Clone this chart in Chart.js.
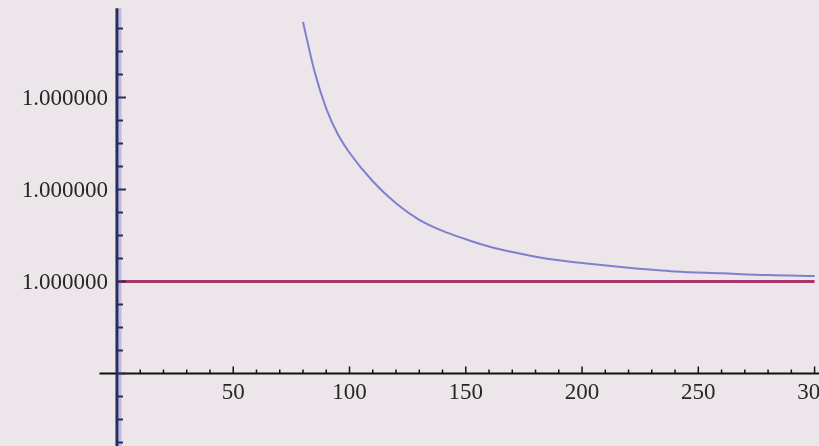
<!DOCTYPE html>
<html>
<head>
<meta charset="utf-8">
<script src="https://cdn.jsdelivr.net/npm/chart.js@4.4.0/dist/chart.umd.min.js"></script>
<style>
  html, body { margin: 0; padding: 0; background: #ece6ea; }
  #wrap { width: 819px; height: 446px; }
</style>
</head>
<body>
<div id="wrap"><canvas id="myChart" width="819" height="446"></canvas></div>
<script>
// curve
var curve_x = [80, 85, 90, 95, 100, 110, 120, 130, 140, 150, 160, 170, 180, 190, 200, 220, 240, 260, 280, 300];
var curve_y = [1.000000282, 1.000000228, 1.000000188, 1.000000160, 1.000000140, 1.000000109, 1.000000085,
               1.000000067, 1.000000055, 1.000000046, 1.000000038, 1.000000032, 1.000000027, 1.000000023,
               1.000000020, 1.000000015, 1.000000011, 1.000000009, 1.000000007, 1.000000006];
// flat line
var line_x = [0, 300];
var line_y = [1.0, 1.0];

// ticks
var x_labels       = [50, 100, 150, 200, 250, 300];
var y_label_values = [1.0000002, 1.0000001, 1.0];
var y_labels       = ['1.000000', '1.000000', '1.000000'];

function to_points(xs, ys){
  return xs.map(function(x, i){ return {x: x, y: ys[i]}; });
}

// mathematica style axes crossing inside the plot
var axes_plugin = {
  id: 'axes',
  afterDatasetsDraw: function(chart){
    var ctx = chart.ctx;
    var sx = chart.scales.x, sy = chart.scales.y;
    var x0 = sx.getPixelForValue(0);
    var yCross = sy.getPixelForValue(0.9999999);
    ctx.save();

    // x axis
    ctx.strokeStyle = '#111';
    ctx.lineWidth = 2;
    ctx.beginPath();
    ctx.moveTo(sx.getPixelForValue(-7.5), yCross);
    ctx.lineTo(chart.width, yCross);
    ctx.stroke();
    ctx.lineWidth = 1.5;
    for (var v = 10; v <= 300; v += 10) {
      var px = sx.getPixelForValue(v);
      var len = (v % 50 === 0) ? 7 : 4;
      ctx.beginPath();
      ctx.moveTo(px, yCross);
      ctx.lineTo(px, yCross - len);
      ctx.stroke();
    }

    // y axis
    var yTop = sy.getPixelForValue(1.000000297);
    ctx.strokeStyle = 'rgba(170,140,230,0.55)';
    ctx.lineWidth = 3;
    ctx.beginPath();
    ctx.moveTo(x0 + 3, yTop);
    ctx.lineTo(x0 + 3, chart.height);
    ctx.stroke();
    ctx.strokeStyle = '#23305a';
    ctx.lineWidth = 3;
    ctx.beginPath();
    ctx.moveTo(x0, yTop);
    ctx.lineTo(x0, chart.height);
    ctx.stroke();
    ctx.lineWidth = 2;
    for (var k = -7; k <= 11; k++) {
      var val = 1 + k * 0.25e-7;
      var py = sy.getPixelForValue(val);
      if (py > chart.height || py < yTop) continue;
      var l2 = (k % 4 === 0) ? 9 : 6;
      ctx.beginPath();
      ctx.moveTo(x0, py);
      ctx.lineTo(x0 + l2, py);
      ctx.stroke();
    }

    // labels
    ctx.fillStyle = '#262626';
    ctx.font = '23px "Liberation Serif"';
    ctx.textBaseline = 'middle';
    ctx.textAlign = 'center';
    x_labels.forEach(function(v){
      ctx.fillText(String(v), sx.getPixelForValue(v), yCross + 19);
    });
    ctx.textAlign = 'right';
    y_label_values.forEach(function(v, i){
      ctx.fillText(y_labels[i], x0 - 9, sy.getPixelForValue(v) + 1);
    });
    ctx.restore();
  }
};

var ctx = document.getElementById('myChart');
window.chart = new Chart(ctx, {
  type: 'line',
  data: {
    datasets: [{
      data: to_points(line_x, line_y),
      borderColor: '#a8346c',
      borderWidth: 3,
      pointRadius: 0
    }, {
      data: to_points(curve_x, curve_y),
      borderColor: '#7f7fd0',
      borderWidth: 2,
      pointRadius: 0,
      cubicInterpolationMode: 'monotone'
    }]
  },
  options: {
    responsive: false,
    animation: false,
    devicePixelRatio: 1,
    layout: { padding: 0 },
    plugins: { legend: { display: false }, tooltip: { enabled: false } },
    scales: {
      x: { type: 'linear', min: -50.3, max: 301.9, display: false },
      y: { type: 'linear', min: 1 - 1.788e-7, max: 1 + 3.06e-7, display: false }
    }
  },
  plugins: [axes_plugin]
});
</script>
</body>
</html>
